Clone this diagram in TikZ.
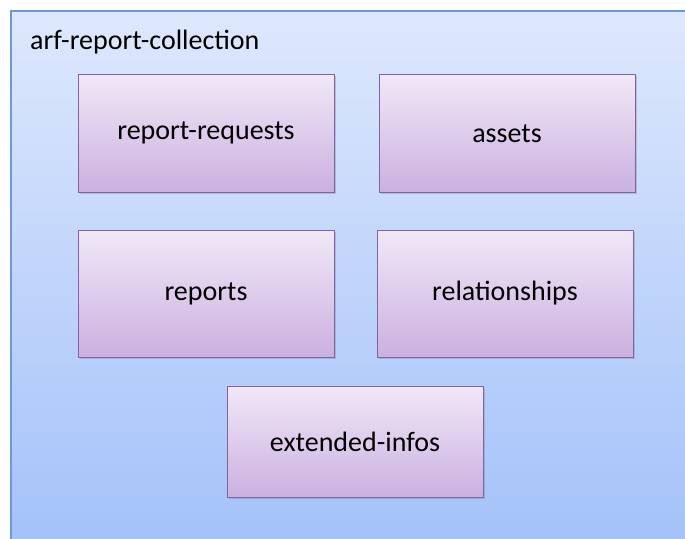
\documentclass[tikz,border=0pt]{standalone}
\usepackage{fontspec}
\setmainfont{Carlito}
\usetikzlibrary{shadows}
\definecolor{outerTop}{HTML}{DDE8FC}
\definecolor{outerBot}{HTML}{A3C1F9}
\definecolor{outerLine}{HTML}{6C9BD2}
\definecolor{boxTop}{HTML}{F1E8F7}
\definecolor{boxBot}{HTML}{CBB0E0}
\definecolor{boxLine}{HTML}{8064A2}
\tikzset{
  part/.style={draw=boxLine, line width=1pt, top color=boxTop, bottom color=boxBot,
    minimum width=256pt, font=\fontsize{28}{32}\selectfont,
    drop shadow={shadow xshift=1.5pt, shadow yshift=-1.5pt, opacity=0.35}},
}
\begin{document}
\begin{tikzpicture}[x=1pt,y=-1pt]
\useasboundingbox (0,0) rectangle (685,538);
\clip (0,0) rectangle (685,538);
% collection
\draw[draw=outerLine, line width=1.2pt, top color=outerTop, bottom color=outerBot] (11,11) rectangle (700,550);
\node[anchor=west, inner sep=0pt, font=\fontsize{28}{32}\selectfont] (title) at (30,42) {arf-report-collection};
% members
\node[part, minimum height=118pt] (requests) at (206,133) {report-requests};
\node[part, minimum height=118pt] (assets) at (507,133.5) {assets};
\node[part, minimum height=127pt] (reports) at (206,293.5) {reports};
\node[part, minimum height=127pt] (relations) at (505,293.5) {relationships};
\node[part, minimum height=111pt] (extended) at (355,441.5) {extended-infos};
\end{tikzpicture}
\end{document}
